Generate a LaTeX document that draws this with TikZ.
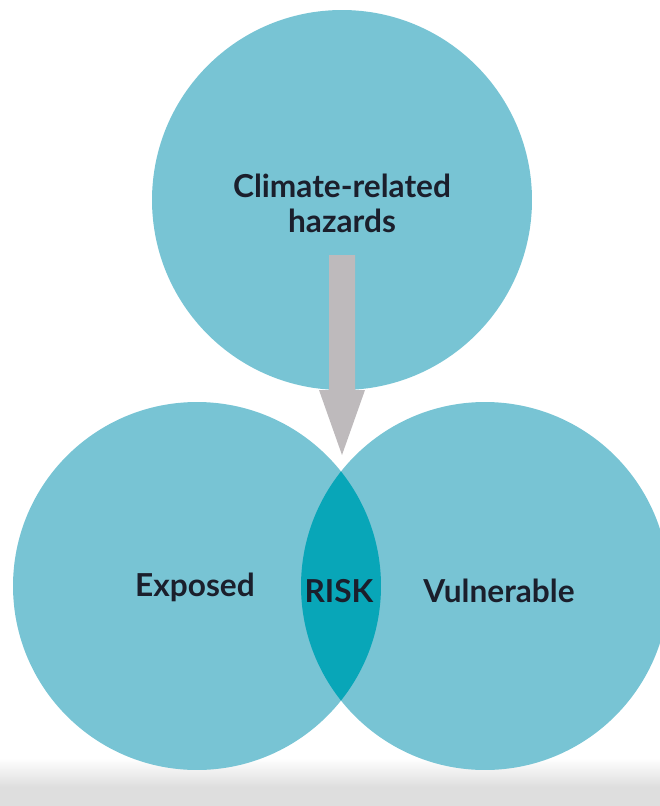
\documentclass[tikz,border=0pt]{standalone}
\usepackage{fontspec}
\setmainfont{Lato}
\definecolor{bubble}{RGB}{120,196,212}
\definecolor{overlap}{RGB}{8,166,184}
\definecolor{arrowgrey}{RGB}{190,186,188}
\definecolor{bandgrey}{RGB}{222,222,222}
\definecolor{ink}{RGB}{27,31,44}
\tikzset{
  bubblefill/.style={fill=bubble},
  label/.style={text=ink, font=\fontsize{45}{50}\selectfont\bfseries, align=center, inner sep=0pt},
}
\begin{document}
\begin{tikzpicture}[x=0.05cm,y=-0.05cm]
\useasboundingbox (0,0) rectangle (660,806);
% footer band
\shade[top color=white, bottom color=bandgrey] (0,758) rectangle (660,787);
\fill[bandgrey] (0,786.5) rectangle (660,806);
% the three circles
\coordinate (topc) at (342,200);
\coordinate (leftc) at (197,586);
\coordinate (rightc) at (485,586);
\fill[bubblefill] (topc) circle[radius=9.5cm];
\fill[bubblefill] (leftc) circle[radius=9.2cm];
\fill[bubblefill] (rightc) circle[radius=9.2cm];
% overlap of the two lower circles
\begin{scope}
  \clip (leftc) circle[radius=9.2cm];
  \fill[overlap] (rightc) circle[radius=9.2cm];
\end{scope}
% downward arrow
\coordinate (arrowtop) at (342,255);
\coordinate (arrowtip) at (342,455);
\fill[arrowgrey] ([xshift=-0.65cm]arrowtop) -- ([xshift=0.65cm]arrowtop)
  -- ([xshift=0.65cm,yshift=3.25cm]arrowtip) -- ([xshift=1.15cm,yshift=3.25cm]arrowtip)
  -- (arrowtip)
  -- ([xshift=-1.15cm,yshift=3.25cm]arrowtip) -- ([xshift=-0.65cm,yshift=3.25cm]arrowtip)
  -- cycle;
% labels
\node[label] (hazards) at (342,203) {Climate-related\\hazards};
\node[label] (exposed) at (195,587) {Exposed};
\node[label] (risk) at (339,591) {RISK};
\node[label] (vulnerable) at (499,591) {Vulnerable};
\end{tikzpicture}
\end{document}
